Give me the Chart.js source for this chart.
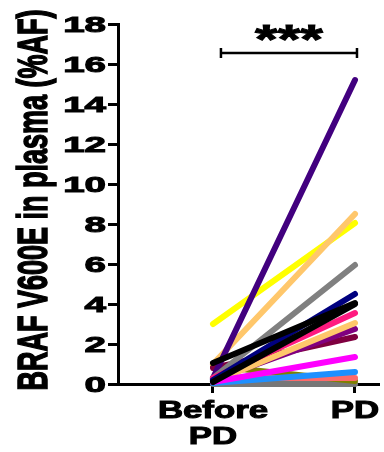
<!DOCTYPE html>
<html>
<head>
<meta charset="utf-8">
<script src="https://cdn.jsdelivr.net/npm/chart.js@4.4.1/dist/chart.umd.min.js"></script>
<style>
  html, body { margin: 0; padding: 0; background: #fff; }
  #wrap { width: 384px; height: 452px; position: relative; }
</style>
</head>
<body>
<div id="wrap"><canvas id="pairs"></canvas></div>
<script>
// paired samples: value before progression and at progression (PD)
const groupLabels = [["Before", "PD"], ["PD"]];
const groupPositions = [1, 2];

const beforePD = [1.05, 0.1, 0.2, 0.3, 0.3, 0.1, 0.1, 0.05, 0.3, 0.2, 0.8, 1.0, 3.0, 0.3, 0.9, 0.0];
const atPD     = [4.05, 4.0, 4.5, 3.55, 5.95, 1.35, 3.05, 0.6, 15.2, 2.75, 2.35, 8.5, 8.05, 0.3, 0.15, 0.0];
const lineColors = [
  "#000000", "#000000", "#00007f", "#ff1a80", "#808080", "#ff00ff", "#ffc76b", "#1e90ff",
  "#42007f", "#800080", "#7f0040", "#ffc76b", "#ffff00", "#ff6a6a", "#808000", "#777777"
];

const yTitle = "BRAF V600E in plasma (%AF)";
const yMin = 0, yMax = 18, yStep = 2;

// significance bracket between the two groups
const sigText = "***";
const sigFrom = 1.056, sigTo = 2.014, sigLevel = 16.55, sigTextLevel = 17.55;

const datasets = beforePD.map((b, i) => ({
  data: [{ x: groupPositions[0], y: b }, { x: groupPositions[1], y: atPD[i] }],
  borderColor: lineColors[i],
  borderWidth: 6,
  borderCapStyle: "round",
  pointRadius: 0,
  tension: 0,
  fill: false,
  clip: false
}));

function wideText(ctx, text, x, y, sx, align) {
  ctx.save();
  ctx.translate(x, y);
  ctx.scale(sx, 1);
  ctx.textAlign = align;
  ctx.fillText(text, 0, 0);
  ctx.strokeText(text, 0, 0);
  ctx.restore();
}

const labelsPlugin = {
  id: "labels",
  afterDraw(chart) {
    const ctx = chart.ctx;
    const xs = chart.scales.x;
    const ys = chart.scales.y;
    ctx.save();
    ctx.fillStyle = "#000";
    ctx.strokeStyle = "#000";
    ctx.lineWidth = 1;
    ctx.textBaseline = "alphabetic";

    // y tick labels
    ctx.font = "bold 22px 'Liberation Sans'";
    ys.ticks.forEach(t => {
      wideText(ctx, String(t.value), ys.right - 12, ys.getPixelForValue(t.value) + 8, 1.75, "right");
    });

    // group labels under the x axis
    ctx.font = "bold 24px 'Liberation Sans'";
    groupLabels.forEach((lines, i) => {
      const px = xs.getPixelForValue(groupPositions[i]);
      lines.forEach((line, j) => {
        wideText(ctx, line, px, xs.top + 34 + j * 26, 1.45, "center");
      });
    });

    // y axis title
    ctx.save();
    ctx.font = "bold 27px 'Liberation Sans'";
    ctx.translate(47, (ys.top + ys.bottom) / 2 - 4);
    ctx.rotate(-Math.PI / 2);
    ctx.scale(1, 1.55);
    ctx.textAlign = "center";
    ctx.fillText(yTitle, 0, 0);
    ctx.strokeText(yTitle, 0, 0);
    ctx.restore();

    // bracket
    const x1 = xs.getPixelForValue(sigFrom);
    const x2 = xs.getPixelForValue(sigTo);
    const by = ys.getPixelForValue(sigLevel);
    ctx.lineWidth = 2.5;
    ctx.beginPath();
    ctx.moveTo(x1, by);
    ctx.lineTo(x2, by);
    ctx.moveTo(x1, by - 5);
    ctx.lineTo(x1, by + 5);
    ctx.moveTo(x2, by - 5);
    ctx.lineTo(x2, by + 5);
    ctx.stroke();

    // stars
    ctx.lineWidth = 1;
    ctx.font = "bold 40px 'Liberation Sans'";
    const m = ctx.measureText(sigText);
    const cy = ys.getPixelForValue(sigTextLevel);
    const base = cy + (m.actualBoundingBoxAscent - m.actualBoundingBoxDescent) / 2;
    wideText(ctx, sigText, (x1 + x2) / 2, base, 1.45, "center");
    ctx.restore();
  }
};

new Chart(document.getElementById("pairs"), {
  type: "line",
  data: { datasets },
  plugins: [labelsPlugin],
  options: {
    responsive: true,
    maintainAspectRatio: false,
    animation: false,
    devicePixelRatio: 1,
    layout: { padding: { top: 24, right: 6, left: 0, bottom: 0 } },
    plugins: { legend: { display: false }, tooltip: { enabled: false } },
    scales: {
      x: {
        type: "linear",
        min: 0.331,
        max: 2.162,
        afterBuildTicks: s => { s.ticks = groupPositions.map(v => ({ value: v })); },
        afterFit: s => { s.height = 68; },
        ticks: { display: false },
        grid: { drawOnChartArea: false, drawTicks: true, tickLength: 9, lineWidth: 3, color: "#000" },
        border: { display: true, color: "#000", width: 3 }
      },
      y: {
        min: yMin,
        max: yMax,
        ticks: { display: false, stepSize: yStep },
        afterFit: s => { s.width = 118; },
        grid: { drawOnChartArea: false, drawTicks: true, tickLength: 10, lineWidth: 3, color: "#000" },
        border: { display: true, color: "#000", width: 3 }
      }
    }
  }
});
</script>
</body>
</html>
